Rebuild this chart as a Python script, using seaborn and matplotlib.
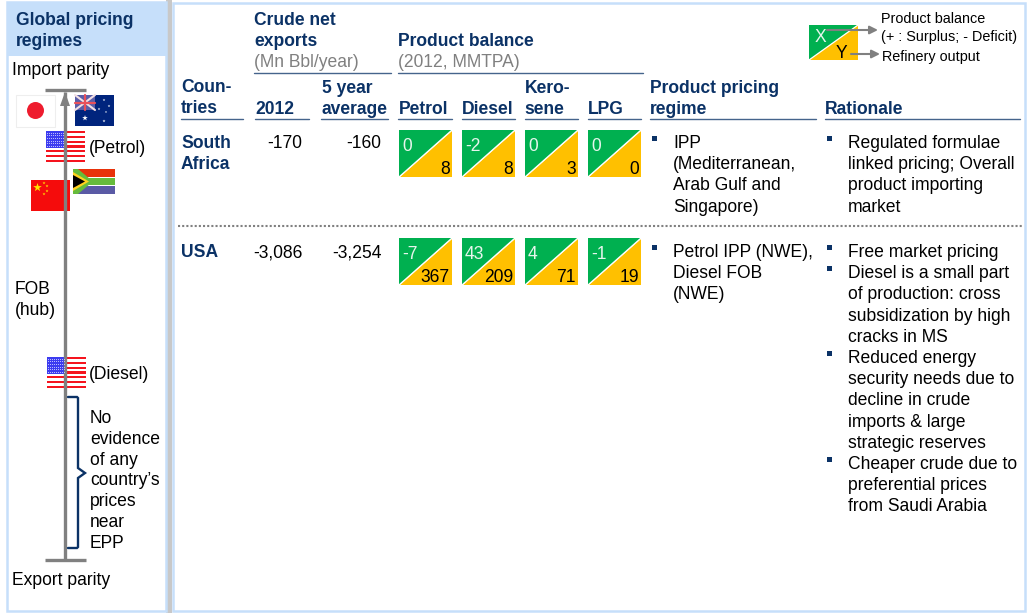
import matplotlib
matplotlib.use('Agg')
import matplotlib.pyplot as plt
from matplotlib.patches import Rectangle, Polygon, Circle
import seaborn as sns

# Table contents
countries = ['South\nAfrica', 'USA']
crude_2012 = ['-170', '-3,086']
crude_5yr = ['-160', '-3,254']
products = ['Petrol', 'Diesel', 'Kero-\nsene', 'LPG']
balance = [[0, -2, 0, 0], [-7, 43, 4, -1]]
output = [[8, 8, 3, 0], [367, 209, 71, 19]]
regime = [['IPP\n(Mediterranean,\nArab Gulf and\nSingapore)'],
          ['Petrol IPP (NWE),\nDiesel FOB\n(NWE)']]
rationale = [['Regulated formulae\nlinked pricing; Overall\nproduct importing\nmarket'],
             ['Free market pricing',
              'Diesel is a small part\nof production: cross\nsubsidization by high\ncracks in MS',
              'Reduced energy\nsecurity needs due to\ndecline in crude\nimports & large\nstrategic reserves',
              'Cheaper crude due to\npreferential prices\nfrom Saudi Arabia']]

sns.set_theme(style='white')
plt.rcParams['font.family'] = ['Liberation Sans', 'DejaVu Sans']

NAVY = '#0b3266'
RULE = '#45648c'
BLUE = '#c6dffa'
GREY = '#808080'
GREEN = '#00b050'
AMBER = '#ffc000'
LH = 21.2
FS = 12.62

fig = plt.figure(figsize=(10.27, 6.13), dpi=100)
ax = fig.add_axes([0, 0, 1, 1])
ax.set_xlim(0, 1027)
ax.set_ylim(613, 0)
ax.axis('off')


def txt(x, y, s, color='black', weight='normal', size=FS, ha='left', lh=LH):
    # y is the baseline of the first line
    for i, line in enumerate(s.split('\n')):
        ax.text(x, y + i * lh, line, color=color, fontweight=weight, fontsize=size, ha=ha, va='baseline')


def rect(x, y, w, h, **kw):
    kw.setdefault('linewidth', 0)
    ax.add_patch(Rectangle((x, y), w, h, **kw))


def us_flag(x, y, w=39, h=31):
    rect(x, y, w, h, facecolor='white')
    for i in range(0, 7):
        rect(x, y + i * h * 2 / 13, w, h / 13, facecolor='#f5141e')
    rect(x, y, w * 0.47, h * 7 / 13, facecolor='#3c3cf0')
    # star field
    for i in range(9):
        for j in range(6):
            ax.plot(x + 1 + i * 2, y + 1.5 + j * 2.7, marker='s', ms=0.6, color='#c8c8ff', mew=0)


def tile(x, y, top, bottom, w=53, h=47):
    ax.add_patch(Polygon([(x, y), (x + w, y), (x, y + h)], facecolor=GREEN, edgecolor='none'))
    ax.add_patch(Polygon([(x + w, y + 1), (x + w, y + h), (x + 1, y + h)], facecolor=AMBER, edgecolor='none'))
    ax.plot([x, x + w], [y + h, y], color='white', lw=0.9)
    txt(x + 3, y + 21, str(top), color='#e6f5ec')
    txt(x + w - 2, y + h - 3, str(bottom), ha='right')


def bullets(x, y, items):
    for item in items:
        rect(x + 1, y - 12, 5, 5, facecolor=NAVY)
        txt(x + 22, y, item)
        y += LH * (item.count('\n') + 1)


# Panels
rect(166, 0, 6, 613, facecolor='#c8c8c8')
rect(7, 2, 159, 54, facecolor=BLUE)
rect(7, 2, 159, 609, facecolor='none', edgecolor=BLUE, linewidth=1.8)
rect(173, 3, 852, 608, facecolor='none', edgecolor=BLUE, linewidth=1.8)
txt(16, 25, 'Global pricing\nregimes', color=NAVY, weight='bold')

# Pricing scale
txt(12, 75, 'Import parity')
txt(12, 585, 'Export parity')
ax.plot([65, 65], [92, 560], color=GREY, lw=2.4, solid_capstyle='butt')
ax.plot([45, 86], [89.5, 89.5], color=GREY, lw=2.4, solid_capstyle='butt')
ax.plot([45, 86], [560, 560], color=GREY, lw=2.4, solid_capstyle='butt')
ax.add_patch(Polygon([(65, 92), (70, 106), (60, 106)], facecolor=GREY, edgecolor='none'))

# Japan
rect(16, 94.5, 39, 32, facecolor='white', edgecolor='#eeeeee', linewidth=0.8)
ax.add_patch(Circle((35.5, 110.5), 8.5, facecolor='#ee1c2e', edgecolor='none'))
# Australia
rect(75, 95, 39, 31, facecolor='#00247d')
rect(75, 95, 20, 15, facecolor='#5a5ea8')
ax.plot([75, 95], [95, 110], color='#f2dfe3', lw=1.5)
ax.plot([75, 95], [110, 95], color='#f2dfe3', lw=1.5)
ax.plot([85, 85], [95, 110], color='#e8505a', lw=1.6)
ax.plot([75, 95], [102.5, 102.5], color='#e8505a', lw=1.6)
ax.scatter([85, 104, 109, 99, 106, 104], [118, 100, 106, 109, 112, 121],
           s=[18, 4, 4, 4, 3, 5], color='white', marker='*', linewidths=0)
# USA petrol / diesel
us_flag(46, 131)
us_flag(47, 357)
txt(89, 153, '(Petrol)')
txt(89, 379, '(Diesel)')
# South Africa
rect(73, 169, 42, 25, facecolor='#5a5aa5')
rect(73, 169, 42, 8.5, facecolor='#e8320a')
rect(73, 177, 42, 9, facecolor='#66bb3c')
rect(73, 176.7, 42, 1.2, facecolor='white')
rect(73, 185, 42, 1.2, facecolor='white')
ax.add_patch(Polygon([(73, 169), (78, 169), (93, 181.5), (78, 194), (73, 194)], facecolor='#66bb3c', edgecolor='none'))
ax.add_patch(Polygon([(73, 172), (89, 181.5), (73, 191)], facecolor='#ffd21e', edgecolor='none'))
ax.add_patch(Polygon([(73, 175), (85, 181.5), (73, 188)], facecolor='black', edgecolor='none'))
# China
rect(31, 180, 39, 31, facecolor='#f50c0c')
ax.scatter([37.5, 44, 47, 47, 44], [187.5, 183, 186, 191, 194], s=[42, 5, 5, 5, 5],
           color='#ffe600', marker='*', linewidths=0)

# Brace
ax.plot([68, 77, 78, 78, 85, 78, 78, 77, 68],
        [397, 397, 398, 468, 473, 478, 547, 548, 548], color=NAVY, lw=1.7, solid_joinstyle='miter')
txt(90, 423, "No\nevidence\nof any\ncountry\u2019s\nprices\nnear\nEPP", lh=20.8)
txt(15, 294, 'FOB\n(hub)')

# Headers
txt(254.5, 25, 'Crude net\nexports', color=NAVY, weight='bold')
txt(254.5, 67, '(Mn Bbl/year)', color=GREY)
txt(398.5, 46, 'Product balance', color=NAVY, weight='bold')
txt(398.5, 67, '(2012, MMTPA)', color=GREY)
txt(181, 92, 'Coun-\ntries', color=NAVY, weight='bold')
txt(255, 114, '2012', color=NAVY, weight='bold')
txt(321.5, 93, '5 year\naverage', color=NAVY, weight='bold')
for name, x in zip(products, [398.5, 461.5, 524.5, 587.5]):
    txt(x, 114 if '\n' not in name else 93, name, color=NAVY, weight='bold')
txt(650, 93, 'Product pricing\nregime', color=NAVY, weight='bold')
txt(825, 114, 'Rationale', color=NAVY, weight='bold')
ax.plot([254, 391], [72.5, 72.5], color=RULE, lw=1)
ax.plot([398, 643], [72.5, 72.5], color=RULE, lw=1)
for x0, x1 in [(181, 243), (255, 309), (321, 388), (398, 452), (462, 515), (525, 578),
               (588, 641), (650, 816), (825, 1020)]:
    ax.plot([x0, x1], [119, 119], color=RULE, lw=1)
ax.plot([178, 1022], [226, 226], color=GREY, lw=1.5, ls=(0, (1, 1)))

# Rows
row_y = [148, 257]
tile_y = [130, 238]
tile_x = [399, 462, 525, 588]
for r, y in enumerate(row_y):
    txt(181, y, countries[r], color=NAVY, weight='bold')
    txt(302.5, y, crude_2012[r], ha='right')
    txt(381.5, y, crude_5yr[r], ha='right')
    for c, x in enumerate(tile_x):
        tile(x, tile_y[r], balance[r][c], output[r][c])
    bullets(651, y, regime[r])
    bullets(826, y, rationale[r])

# Legend key
ax.add_patch(Polygon([(809, 25), (858, 25), (809, 60)], facecolor=GREEN, edgecolor='none'))
ax.add_patch(Polygon([(858, 25), (858, 60), (809, 60)], facecolor=AMBER, edgecolor='none'))
ax.plot([809, 858], [60, 25], color='white', lw=0.9)
txt(815, 42, 'X', color='#e6f5ec')
txt(836, 58, 'Y')
ax.annotate('', xy=(878, 30), xytext=(827, 30), arrowprops=dict(arrowstyle='-|>', color=GREY, lw=1.5, shrinkA=0, shrinkB=0))
ax.annotate('', xy=(880, 54), xytext=(851, 54), arrowprops=dict(arrowstyle='-|>', color=GREY, lw=1.5, shrinkA=0, shrinkB=0))
txt(881, 23, 'Product balance\n(+ : Surplus; - Deficit)', size=10.4, lh=18)
txt(882, 61, 'Refinery output', size=10.4)

fig.savefig('out.png', dpi=100)
